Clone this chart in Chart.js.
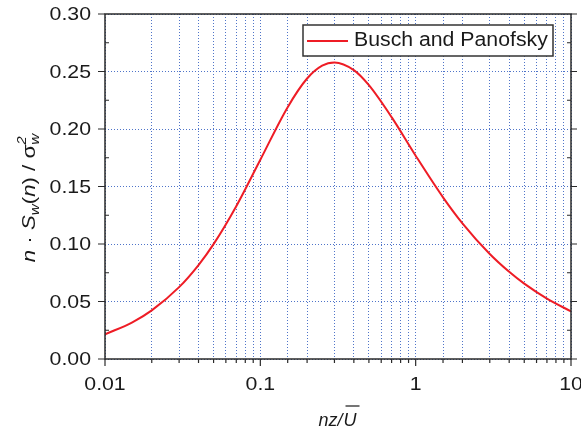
<!DOCTYPE html>
<html>
<head>
<meta charset="utf-8">
<script src="https://cdn.jsdelivr.net/npm/chart.js@4.4.1/dist/chart.umd.min.js"></script>
<style>
html,body{margin:0;padding:0;background:#fff;}
#wrap{width:581px;height:432px;position:relative;}
</style>
</head>
<body>
<div id="wrap"><canvas id="c" width="581" height="432"></canvas></div>
<script>
// Data
const freq = [0.01, 0.015, 0.02, 0.03, 0.04, 0.05, 0.07, 0.1, 0.15, 0.2, 0.25, 0.3, 0.4, 0.5, 0.7, 1, 1.5, 2, 3, 4, 5, 7, 10];
const spectrum = [0.0214, 0.0319, 0.0423, 0.0625, 0.0817, 0.0999, 0.1329, 0.1733, 0.2190, 0.2439, 0.2551, 0.2579, 0.2512, 0.2381, 0.2103, 0.1768, 0.1406, 0.1180, 0.0913, 0.0758, 0.0655, 0.0525, 0.0414];
const seriesName = 'Busch and Panofsky';
const xTickLabels = [0.01, 0.1, 1, 10];
const yTickLabels = [0, 0.05, 0.1, 0.15, 0.2, 0.25, 0.3];

const FONT = '"Liberation Sans", Arial, sans-serif';
const AXIS = '#2a2a2a';
const GRID = '#4f74c9';

// draw text horizontally stretched by sx, anchored by align
function stretchText(ctx, text, x, y, sx, align) {
  const w = ctx.measureText(text).width * sx;
  let left = x;
  if (align === 'center') left = x - w / 2;
  else if (align === 'right') left = x - w;
  ctx.save();
  ctx.textAlign = 'left';
  ctx.translate(left, y);
  ctx.scale(sx, 1);
  ctx.fillText(text, 0, 0);
  ctx.restore();
}

const decor = {
  id: 'decor',
  afterDraw(chart) {
    const ctx = chart.ctx;
    const a = chart.chartArea;
    const xs = chart.scales.x, ys = chart.scales.y;
    ctx.save();
    // frame
    ctx.strokeStyle = AXIS;
    ctx.lineWidth = 1.5;
    ctx.strokeRect(a.left, a.top, a.right - a.left, a.bottom - a.top);
    // x ticks
    ctx.lineWidth = 1.2;
    xs.ticks.forEach(t => {
      const v = t.value;
      const px = xs.getPixelForValue(v);
      const major = xTickLabels.some(m => Math.abs(m - v) / m < 1e-6);
      ctx.beginPath();
      ctx.moveTo(px, a.bottom);
      ctx.lineTo(px, a.bottom + (major ? 7 : 4));
      ctx.stroke();
    });
    // y ticks (major outward, minor inward), left and right
    for (let i = 0; i < yTickLabels.length; i++) {
      const py = ys.getPixelForValue(yTickLabels[i]);
      ctx.beginPath();
      ctx.moveTo(a.left, py); ctx.lineTo(a.left - 7, py);
      ctx.moveTo(a.right, py); ctx.lineTo(a.right + 6, py);
      ctx.stroke();
      if (i < yTickLabels.length - 1) {
        const pm = ys.getPixelForValue((yTickLabels[i] + yTickLabels[i + 1]) / 2);
        ctx.beginPath();
        ctx.moveTo(a.left, pm); ctx.lineTo(a.left + 4, pm);
        ctx.moveTo(a.right, pm); ctx.lineTo(a.right - 4, pm);
        ctx.stroke();
      }
    }
    // tick labels
    ctx.fillStyle = '#1a1a1a';
    ctx.font = '19px ' + FONT;
    ctx.textBaseline = 'middle';
    yTickLabels.forEach(v => {
      stretchText(ctx, v.toFixed(2), a.left - 14, ys.getPixelForValue(v) + 1, 1.12, 'right');
    });
    xTickLabels.forEach(v => {
      stretchText(ctx, String(v), xs.getPixelForValue(v), a.bottom + 26, 1.12, 'center');
    });
    // x title: nz/U with overline
    const midX = (a.left + a.right) / 2;
    const ty = 421;
    ctx.font = 'italic 18px ' + FONT;
    ctx.textAlign = 'left';
    ctx.textBaseline = 'middle';
    const s1 = 'nz/';
    const w1 = ctx.measureText(s1).width;
    const w2 = ctx.measureText('U').width;
    let x0 = midX - (w1 + w2) / 2 - 1;
    ctx.fillText(s1, x0, ty);
    ctx.fillText('U', x0 + w1 + 1, ty);
    ctx.lineWidth = 1.2;
    ctx.strokeStyle = '#1a1a1a';
    ctx.beginPath();
    ctx.moveTo(x0 + w1 + 3, ty - 15);
    ctx.lineTo(x0 + w1 + w2 + 4, ty - 15);
    ctx.stroke();
    // y title rotated
    ctx.save();
    ctx.translate(30, 198);
    ctx.rotate(-Math.PI / 2);
    const SX = 1.17;
    const segs = [
      {t: 'n', f: 'italic 19px'},
      {t: ' · ', f: '19px'},
      {t: 'S', f: 'italic 19px'},
      {t: 'w', f: 'italic 13px', dy: 5},
      {t: '(', f: '19px'},
      {t: 'n', f: 'italic 19px'},
      {t: ')', f: '19px'},
      {t: ' / ', f: '19px'},
      {t: 'σ', f: '19px'},
      {t: 'w', f: 'italic 13px', dy: 5, stack: '2'}
    ];
    let total = 0;
    segs.forEach(s => { ctx.font = s.f + ' ' + FONT; s.w = ctx.measureText(s.t).width * SX; total += s.w; });
    let cx = -total / 2;
    ctx.textBaseline = 'middle';
    segs.forEach(s => {
      ctx.font = s.f + ' ' + FONT;
      stretchText(ctx, s.t, cx, s.dy || 0, SX, 'left');
      if (s.stack) stretchText(ctx, s.stack, cx, -8, SX, 'left');
      cx += s.w;
    });
    ctx.restore();
    // legend
    const lx = 303, ly = 25, lw = 250, lh = 31;
    ctx.fillStyle = '#ffffff';
    ctx.fillRect(lx, ly, lw, lh);
    ctx.strokeStyle = '#333';
    ctx.lineWidth = 1.5;
    ctx.strokeRect(lx, ly, lw, lh);
    ctx.strokeStyle = '#ee1c25';
    ctx.lineWidth = 2;
    ctx.beginPath();
    ctx.moveTo(lx + 4, ly + 16);
    ctx.lineTo(lx + 45, ly + 16);
    ctx.stroke();
    ctx.fillStyle = '#1a1a1a';
    ctx.font = '19.5px ' + FONT;
    ctx.textBaseline = 'middle';
    stretchText(ctx, seriesName, lx + 51, ly + 16, 1.09, 'left');
    ctx.restore();
  }
};

new Chart(document.getElementById('c'), {
  type: 'line',
  data: {
    datasets: [{
      label: seriesName,
      data: freq.map((f, i) => ({x: f, y: spectrum[i]})),
      borderColor: '#ee1c25',
      borderWidth: 2,
      pointRadius: 0,
      fill: false,
      cubicInterpolationMode: 'monotone'
    }]
  },
  options: {
    responsive: false,
    animation: false,
    devicePixelRatio: 1,
    layout: {padding: {left: 0, top: 14, right: 10, bottom: 0}},
    plugins: {legend: {display: false}, tooltip: {enabled: false}},
    scales: {
      x: {
        type: 'logarithmic',
        min: 0.01, max: 10,
        ticks: {display: false},
        grid: {color: GRID, lineWidth: 1, drawTicks: false},
        border: {display: false, dash: [1, 2]},
        afterFit(s) { s.height = 73; }
      },
      y: {
        min: 0, max: 0.3,
        ticks: {display: false, stepSize: 0.05},
        grid: {color: GRID, lineWidth: 1, drawTicks: false},
        border: {display: false, dash: [1, 2]},
        afterFit(s) { s.width = 105; }
      }
    }
  },
  plugins: [decor]
});
</script>
</body>
</html>
